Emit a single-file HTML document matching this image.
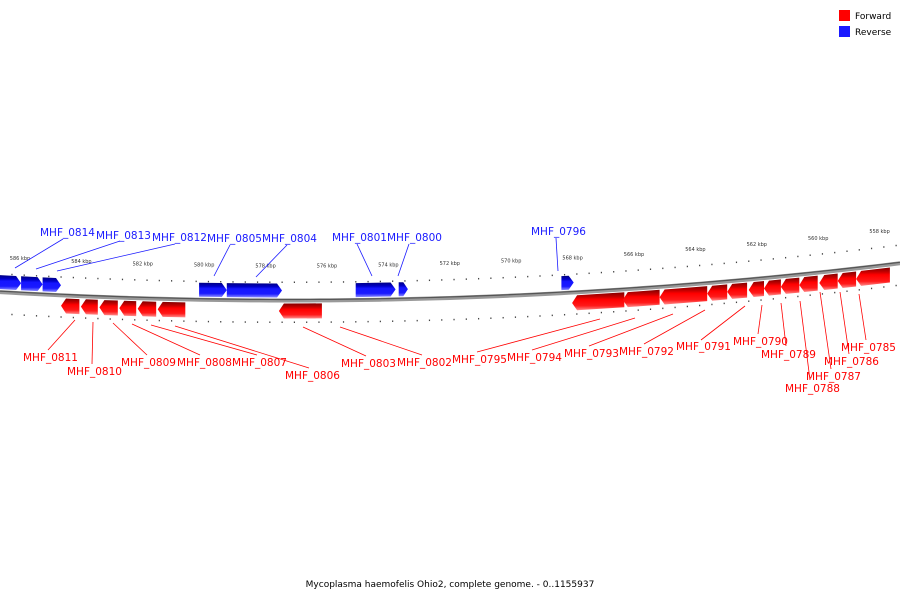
<!DOCTYPE html>
<html><head><meta charset="utf-8"><style>
html,body{margin:0;padding:0;background:#fff}
svg{display:block;font-family:"DejaVu Sans","Liberation Sans",sans-serif}
</style></head><body>
<svg id="chart" width="900" height="600" viewBox="0 0 900 600">
<defs>
<linearGradient id="gb" x1="0" y1="0" x2="0" y2="1"><stop offset="0" stop-color="#000080"/><stop offset="0.25" stop-color="#0000c8"/><stop offset="0.4" stop-color="#1515ff"/><stop offset="0.75" stop-color="#1a1aff"/><stop offset="1" stop-color="#8c8cff"/></linearGradient>
<linearGradient id="gr" x1="0" y1="0" x2="0" y2="1"><stop offset="0" stop-color="#800000"/><stop offset="0.25" stop-color="#c80000"/><stop offset="0.4" stop-color="#ff0000"/><stop offset="0.75" stop-color="#ff1a1a"/><stop offset="1" stop-color="#ff8c8c"/></linearGradient>
</defs>
<g id="legend">
<rect x="839" y="10" width="11" height="11" fill="#ff0000"/>
<text x="855" y="19" font-size="9" fill="#000">Forward</text>
<rect x="839" y="26" width="11" height="11" fill="#1a1aff"/>
<text x="855" y="35" font-size="9" fill="#000">Reverse</text>
</g>
<text x="450" y="587" font-size="9" text-anchor="middle" fill="#000">Mycoplasma haemofelis Ohio2, complete genome. - 0..1155937</text>
</svg>
<script>
const tickKbp = [586,584,582,580,578,576,574,572,570,568,566,564,562,560,558];
const tickLabels = ["586 kbp","584 kbp","582 kbp","580 kbp","578 kbp","576 kbp","574 kbp","572 kbp","570 kbp","568 kbp","566 kbp","564 kbp","562 kbp","560 kbp","558 kbp"];
// genes in kbp coordinates (start, end)
const revStart = [586.6,585.9,585.2,580.1,579.2,575.0,573.6,568.3];
const revEnd   = [585.9,585.2,584.6,579.2,577.4,573.7,573.3,567.9];
const revNames = ["MHF_0814","MHF_0813","MHF_0812","MHF_0805","MHF_0804","MHF_0801","MHF_0800","MHF_0796"];
const fwdStart = [584.6,583.95,583.35,582.7,582.1,581.45,577.5,576.75,567.95,566.3,565.1,563.55,562.9,562.2,561.7,561.15,560.55,559.9,559.3,558.7];
const fwdEnd   = [584.0,583.4,582.75,582.15,581.5,580.55,576.3,576.1,566.25,565.1,563.55,562.9,562.25,561.7,561.15,560.55,559.95,559.3,558.7,557.6];
const fwdNames = ["MHF_0811","MHF_0810","MHF_0809","MHF_0808","MHF_0807","MHF_0806","MHF_0803","MHF_0802","MHF_0795","MHF_0794","MHF_0793","MHF_0792","MHF_0791","MHF_0790","MHF_0789","MHF_0788","MHF_0787","MHF_0786","MHF_0785","MHF_0785b"];

const svg = document.getElementById('chart');
const NS = 'http://www.w3.org/2000/svg';
const X = k => 18 + (586 - k) * 30.7;
const CY = x => 300.5 - 1.0e-4 * (x - 290) * (x - 290);
function mk(tag, attrs){const e=document.createElementNS(NS,tag);for(const k in attrs)e.setAttribute(k,attrs[k]);svg.appendChild(e);return e;}

// backbone
let d='';for(let x=0;x<=900;x+=10){d+=(x?'L':'M')+x+' '+CY(x).toFixed(2);}
let bb=mk('path',{d:d,stroke:'#999',"stroke-width":4,fill:'none'});


let bb2=mk('path',{d:d,stroke:'#555',"stroke-width":1.2,fill:'none',transform:'translate(0,-1)'});



// ticks
for(let k=587.0;k>=557;k-=0.4){
  const kk=Math.round(k*10)/10;const x=X(kk);if(x<0||x>900)continue;
  const cy=CY(x);
  const major=Math.abs(kk-Math.round(kk))<0.01 && Math.round(kk)%2===0;
  if(major){
    let t1=mk('rect',{x:x-0.7,y:cy-23,width:1.5,height:6,fill:'#000'});
    
    
    let t2=mk('rect',{x:x-0.7,y:cy+19,width:1.5,height:6,fill:'#000'});
    
    
  } else {
    let d1=mk('rect',{x:x-0.5,y:cy-19,width:1.2,height:1.5,fill:'#444'});
    
    
    let d2=mk('rect',{x:x-0.5,y:cy+21,width:1.2,height:1.5,fill:'#444'});
    
    
  }
}
tickKbp.forEach((k,i)=>{
  const x=X(k);const t=mk('text',{x:x+2,y:CY(x)-33,"font-size":5,"text-anchor":"middle",fill:'#333'});
  t.textContent=tickLabels[i];
  
  
});

function pt(x,o){return x.toFixed(1)+','+(CY(x)+o).toFixed(1);}
// reverse genes (above, pointing right)
revStart.forEach((s,i)=>{
  const x1=X(s),x2=X(revEnd[i]);const h=Math.min(5,(x2-x1)/2);
  const p=[pt(x1,-17),pt(x2-h,-17),pt(x2,-10),pt(x2-h,-3),pt(x1,-3)].join(' ');
  const g=mk('polygon',{points:p,fill:'url(#gb)'});
  
  
});
fwdStart.forEach((s,i)=>{
  const x1=X(s),x2=Math.min(X(fwdEnd[i]),905);const h=Math.min(5,(x2-x1)/2);
  const p=[pt(x1+h,3),pt(x2,3),pt(x2,18),pt(x1+h,18),pt(x1,10.5)].join(' ');
  const g=mk('polygon',{points:p,fill:'url(#gr)'});
  
  
});

// labels: [name, textX, baselineY, lineX1, lineY1, lineX2, lineY2]
const blueLabels=[["MHF_0814",40,236,63,239,15,268],["MHF_0813",96,239,120,241,36,269],["MHF_0812",152,241,175,244,57,271],["MHF_0805",207,242,230,245,214,276],["MHF_0804",262,242,287,245,256,277],["MHF_0801",332,241,357,244,372,276],["MHF_0800",387,241,409,244,398,276],["MHF_0796",531,235,556,238,558,271]];
const redLabels=[["MHF_0811",23,361,75,320,48,350],["MHF_0810",67,375,93,322,92,364],["MHF_0809",121,366,113,323,147,355],["MHF_0808",177,366,132,324,200,355],["MHF_0807",232,366,151,325,257,355],["MHF_0806",285,379,175,326,309,368],["MHF_0803",341,367,303,327,366,356],["MHF_0802",397,366,340,327,422,355],["MHF_0795",452,363,600,319,477,352],["MHF_0794",507,361,635,318,532,350],["MHF_0793",564,357,673,314,589,346],["MHF_0792",619,355,705,310,644,344],["MHF_0791",676,350,745,306,701,340],["MHF_0790",733,345,762,305,758,334],["MHF_0789",761,358,781,303,786,346],["MHF_0788",785,392,800,301,810,380],["MHF_0787",806,380,820,292,831,369],["MHF_0786",824,365,840,292,849,354],["MHF_0785",841,351,859,294,866,340]];
function lab(arr,col){arr.forEach(a=>{
  const l=mk('line',{x1:a[3],y1:a[4],x2:a[5],y2:a[6],stroke:col,"stroke-width":0.8});
  
  
  const t=mk('text',{x:a[1],y:a[2],"font-size":10.5,fill:col});
  t.textContent=a[0];
  
  
});}
lab(blueLabels,'#1a1aff');lab(redLabels,'#ff0000');
</script>
</body></html>
